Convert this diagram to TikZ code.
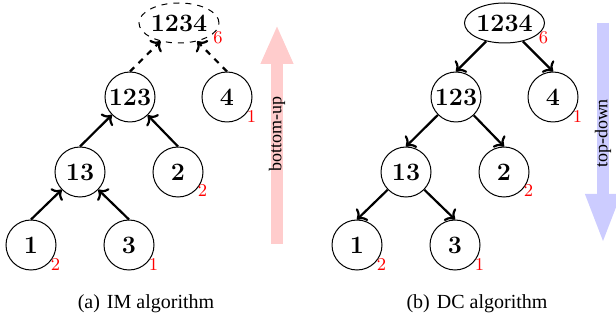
\documentclass[tikz,border=0pt]{standalone}
\usepackage{fontspec}
\newfontfamily\timesfont{Liberation Serif}
\usetikzlibrary{shapes.geometric,arrows.meta}
\begin{document}
\begin{tikzpicture}[x=0.5pt,y=-0.5pt,
  tn/.style={circle,draw,line width=0.5pt,minimum size=25pt,inner sep=0pt,font=\fontsize{12.5}{14}\selectfont\bfseries},
  te/.style={ellipse,draw,line width=0.5pt,minimum width=40pt,minimum height=20pt,inner sep=0pt,font=\fontsize{12.5}{14}\selectfont\bfseries},
  lab/.style={text=red,font=\fontsize{9}{10}\selectfont,inner sep=0pt},
  edgearr/.style={line width=1.1pt,->},
  captxt/.style={font=\timesfont\fontsize{10}{12}\selectfont,anchor=base},
  bigtxt/.style={midway,rotate=90,text=black,font=\timesfont\fontsize{9}{11}\selectfont},
]
\useasboundingbox (0,0) rectangle (616,320);

% ---- (a) IM algorithm ----
\node[te,dashed] (a1234) at (179,23) {1234};
\node[tn] (a123) at (130,97) {123};
\node[tn] (a4) at (227,97) {4};
\node[tn] (a13) at (80,172) {13};
\node[tn] (a2) at (178,172) {2};
\node[tn] (a1) at (31,245) {1};
\node[tn] (a3) at (129,245) {3};

\node[lab] (la1234) at ([shift={(39,14.5)}]a1234) {6};
\node[lab] (la4) at ([shift={(24.5,20)}]a4) {1};
\node[lab] (la2) at ([shift={(24.5,19)}]a2) {2};
\node[lab] (la1) at ([shift={(24.5,20)}]a1) {2};
\node[lab] (la3) at ([shift={(24.5,20)}]a3) {1};

\draw[edgearr,dashed] (a123.north) -- (a1234);
\draw[edgearr,dashed] (a4.north) -- (a1234);
\draw[edgearr] (a13.north) -- (a123);
\draw[edgearr] (a2.north) -- (a123);
\draw[edgearr] (a1.north) -- (a13);
\draw[edgearr] (a3.north) -- (a13);

\node[captxt] (capa) at (146,308) {(a)\hspace{3.5pt}IM algorithm};

\coordinate (pu0) at (277,244);
\coordinate (pu1) at (277,25);
\draw[line width=6pt,red!20,-{Triangle[width=15pt,length=19.5pt]}] (pu0) -- (pu1)
  node[bigtxt] (pulab) {bottom-up};

% ---- (b) DC algorithm ----
\node[te] (b1234) at (504.5,23) {1234};
\node[tn] (b123) at (456,97) {123};
\node[tn] (b4) at (553,97) {4};
\node[tn] (b13) at (406,172) {13};
\node[tn] (b2) at (504,172) {2};
\node[tn] (b1) at (357,245) {1};
\node[tn] (b3) at (455,245) {3};

\node[lab] (lb1234) at ([shift={(39,14.5)}]b1234) {6};
\node[lab] (lb4) at ([shift={(24.5,20)}]b4) {1};
\node[lab] (lb2) at ([shift={(24.5,19)}]b2) {2};
\node[lab] (lb1) at ([shift={(24.5,20)}]b1) {2};
\node[lab] (lb3) at ([shift={(24.5,20)}]b3) {1};

\draw[edgearr] (b1234) -- (b123.north);
\draw[edgearr] (b1234) -- (b4.north);
\draw[edgearr] (b123) -- (b13.north);
\draw[edgearr] (b123) -- (b2.north);
\draw[edgearr] (b13) -- (b1.north);
\draw[edgearr] (b13) -- (b3.north);

\node[captxt] (capb) at (477,308) {(b)\hspace{3.5pt}DC algorithm};

\coordinate (td0) at (603,23);
\coordinate (td1) at (603,244);
\draw[line width=6pt,blue!20,-{Triangle[width=16pt,length=25pt]}] (td0) -- (td1)
  node[bigtxt] (tdlab) {top-down};
\end{tikzpicture}
\end{document}
